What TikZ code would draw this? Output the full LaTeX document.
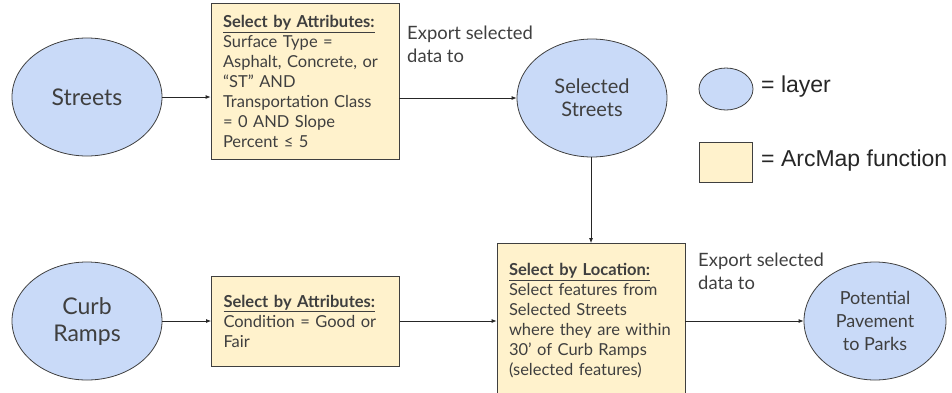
\documentclass[tikz,border=0pt]{standalone}
\usepackage{fontspec}
\setmainfont{Lato}
\newfontfamily\legendfont{Liberation Sans}
\usetikzlibrary{shapes.geometric,arrows.meta}
\definecolor{layerblue}{HTML}{C9DAF8}
\definecolor{funcyellow}{HTML}{FFF2CC}
\definecolor{inkgray}{HTML}{3F3F3F}

\begin{document}
\begin{tikzpicture}[x=1pt,y=-1pt,
	layer/.style={ellipse,draw=inkgray,fill=layerblue,line width=0.8pt,text=inkgray,minimum width=150pt,minimum height=118pt,inner sep=0pt,align=center,font=\fontsize{23}{27}\selectfont},
	func/.style={draw=inkgray,fill=funcyellow,line width=0.8pt,text=inkgray,text width=164pt,inner sep=12pt,align=left,font=\fontsize{16.5}{20}\selectfont},
	flow/.style={-{Latex[length=5pt,width=4pt]},line width=0.8pt,draw=black!85},
	note/.style={anchor=north west,inner sep=0pt,align=left,text=inkgray,font=\fontsize{18.4}{23}\selectfont},
	key/.style={anchor=west,inner sep=0pt,text=black!85,font=\legendfont\fontsize{23}{27}\selectfont}]
			\useasboundingbox (0,0) rectangle (952,392);
			% layers
			\node[layer] (streets) at (87,97) {Streets};
			\node[layer] (curb) at (87,321) {Curb\\Ramps};
			\node[layer,font=\fontsize{20}{23}\selectfont] (sel) at (592,98) {Selected\\Streets};
			\node[layer,minimum width=142pt,font=\fontsize{18}{23}\selectfont] (pav) at (875,321) {Potential\\Pavement\\to Parks};
			% functions
			\node[func,minimum height=149pt] (attrtop) at (305,81.5) {\underline{\textbf{Select by Attributes:}}\\Surface Type =\\Asphalt, Concrete, or\\“ST” AND\\Transportation Class\\= 0 AND Slope\\Percent ≤ 5};
			\node[func,minimum height=90pt] (attrcurb) at (305.5,321) {\underline{\textbf{Select by Attributes:}}\\Condition = Good or\\Fair};
			\node[func,minimum height=155pt] (loc) at (591,321) {\underline{\textbf{Select by Location:}}\\Select features from\\Selected Streets\\where they are within\\30’ of Curb Ramps\\(selected features)};
			% connectors
			\draw[flow] (streets.east) -- (streets.east -| attrtop.west);
			\draw[flow] (sel.west -| attrtop.east) -- (sel.west);
			\draw[flow] (sel.south -| loc.north) -- (loc.north);
			\draw[flow] (curb.east) -- (attrcurb.west);
			\draw[flow] (attrcurb.east) -- (loc.west);
			\draw[flow] (loc.east) -- (pav.west);
			\node[note] (exporttop) at (407,26) {Export selected\\data to};
			\node[note] (exportbot) at (698,253) {Export selected\\data to};
			% legend
			\node[layer,minimum width=54pt,minimum height=42pt] (keylayer) at (726,89) {};
			\node[key] (keylayertext) at (761,87) {= layer};
			\draw[fill=funcyellow,draw=inkgray,line width=0.8pt] (699,142) rectangle (752,182);
			\node[key] (keyfunctext) at (761,161) {= ArcMap function};
\end{tikzpicture}
\end{document}
